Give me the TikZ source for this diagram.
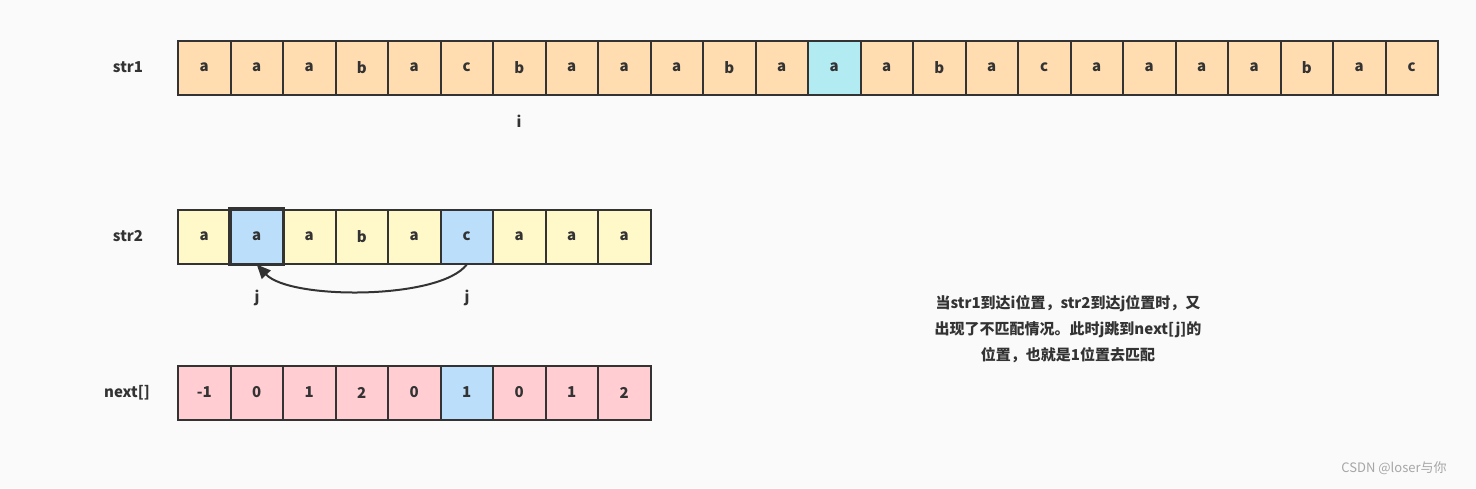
\documentclass[tikz,border=0pt]{standalone}
\usepackage{fontspec}
\setmainfont{Noto Sans CJK SC}
\usetikzlibrary{arrows.meta}
\definecolor{bg}{HTML}{FAFAFA}
\definecolor{org}{HTML}{FFDDB0}
\definecolor{cyanc}{HTML}{B2EBF2}
\definecolor{yel}{HTML}{FFF8C8}
\definecolor{blu}{HTML}{BBDEFB}
\definecolor{pnk}{HTML}{FFCDD2}
\definecolor{ink}{HTML}{333333}
\tikzset{cell/.style={draw=ink,line width=2pt,minimum width=52.5pt,minimum height=54pt,inner sep=0pt,font=\fontsize{15}{18}\selectfont\bfseries,text=ink},
lbl/.style={font=\fontsize{15}{18}\selectfont\bfseries,text=ink}}
\begin{document}
\begin{tikzpicture}[x=1pt,y=-1pt]
\fill[bg] (0,0) rectangle (1476,488);
\useasboundingbox (0,0) rectangle (1476,488);
\node[lbl] (l1) at (128,67.5) {str1};
\node[lbl] (l2) at (128,236.5) {str2};
\node[lbl] (l3) at (127,392.5) {next[]};
\foreach \c [count=\k from 0] in {a,a,a,b,a,c,b,a,a,a,b,a,a,a,b,a,c,a,a,a,a,b,a,c}{
  \ifnum\k=12 \def\fc{cyanc}\else\def\fc{org}\fi
  \node[cell,fill=\fc] (s\k) at ({204.25+52.5*\k},67.5) {\c};}
\foreach \c [count=\k from 0] in {a,a,a,b,a,c,a,a,a}{
  \ifnum\k=1 \def\fc{blu}\else\ifnum\k=5 \def\fc{blu}\else\def\fc{yel}\fi\fi
  \node[cell,fill=\fc] (t\k) at ({204.25+52.5*\k},236.5) {\c};}
\foreach \c [count=\k from 0] in {-1,0,1,2,0,1,0,1,2}{
  \ifnum\k=5 \def\fc{blu}\else\def\fc{pnk}\fi
  \node[cell,fill=\fc] (n\k) at ({204.25+52.5*\k},392.5) {\c};}
\draw[ink,line width=2.5pt] (t1.north west) rectangle (t1.south east);
\node[lbl] (i) at (519,121) {i};
\node[lbl] (j1) at (257,298) {j};
\node[lbl] (j2) at (467,298) {j};
\draw[ink,line width=2pt,-{Triangle[length=14pt,width=12pt]}] (t5.south) .. controls (440,300) and (290,300) .. (t1.south);
\node[lbl,align=center,font=\fontsize{15}{26}\selectfont\bfseries] (txt) at (1068,329) {当str1到达i位置，str2到达j位置时，又\\出现了不匹配情况。此时j跳到next[j]的\\位置，也就是1位置去匹配};
\node[text=gray!70,font=\fontsize{13}{15}\selectfont] (wm) at (1394,468) {CSDN @loser与你};
\end{tikzpicture}
\end{document}
